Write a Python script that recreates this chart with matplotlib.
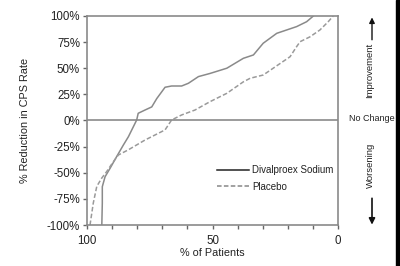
import matplotlib.pyplot as plt
from matplotlib.patches import Rectangle

# % of patients (x) vs % reduction in CPS rate (y)
div_pct = [94.1, 93.9, 93.9, 92.8, 90.8, 88.2, 85.5, 83.5, 80.2, 79.6, 76.9, 74.2, 72.2,
           68.9, 66.3, 62.3, 59.6, 55.6, 51.0, 44.3, 37.7, 33.7, 29.8, 24.4, 16.5, 12.5, 9.8]
div_val = [-100, -79, -63.3, -53.8, -45.7, -34.6, -23.4, -15.5, 0.5, 6.9, 10, 13, 21,
           31.8, 33, 33, 35.6, 42, 45, 50, 59.5, 62.7, 73.9, 83.4, 89.8, 94.5, 100]

pla_pct = [98.8, 97.5, 96.1, 94.1, 92.2, 89.5, 87.5, 83.5, 76.9, 68.9, 66.3, 62.3, 57.0,
           51.0, 44.3, 37.7, 35.0, 29.8, 19.1, 16.5, 15.1, 11.2, 7.2, 3.9, 1.9]
pla_val = [-100, -79, -63, -55, -49, -39.4, -33, -28, -18.7, -9, 0.5, 5.3, 10,
           18, 26, 37, 40.4, 43.5, 61, 70.6, 75.4, 80, 86.6, 94.5, 100]

yticks = [-100, -75, -50, -25, 0, 25, 50, 75, 100]
ytick_labels = ['-100%', '-75%', '-50%', '-25%', '0%', '25%', '50%', '75%', '100%']

plt.rcParams['font.family'] = ['Liberation Sans', 'DejaVu Sans']
plt.rcParams['font.size'] = 8.3

fig = plt.figure(figsize=(4, 2.66), dpi=100)
ax = fig.add_axes([0.2175, 0.154, 0.6275, 0.786])

ax.plot(div_pct, div_val, color='#8a8a8a', lw=1.1, label='Divalproex Sodium')
ax.plot(pla_pct, pla_val, color='#9a9a9a', lw=1.1, ls=(0, (3, 1.5)), label='Placebo')
ax.axhline(0, color='#8a8a8a', lw=1.2)

ax.set_xlim(100, 0)
ax.set_ylim(-100, 100)
ax.set_xticks(range(0, 101, 10))
ax.set_xticklabels(['0', '', '', '', '', '50', '', '', '', '', '100'])
ax.set_yticks(yticks)
ax.set_yticklabels(ytick_labels)
ax.tick_params(color='#666666', length=3, width=1, labelcolor='#222222', pad=2)
ax.tick_params(axis='x', pad=4)
for s in ax.spines.values():
    s.set_color('#8a8a8a')
    s.set_linewidth(1.2)

ax.set_ylabel('% Reduction in CPS Rate', color='#222222', fontsize=7.8, labelpad=12)
ax.set_xlabel('% of Patients', color='#222222', fontsize=7.8, labelpad=1)

leg = ax.legend(loc='center right', bbox_to_anchor=(1.0, 0.222), frameon=False, fontsize=7,
                handlelength=3.3, handletextpad=0.3, labelspacing=0.65, borderpad=0)
leg.get_lines()[0].set_color('#222222')
leg.get_lines()[1].set_color('#888888')
for t in leg.get_texts():
    t.set_color('#222222')

# right-side annotations
fig.text(0.925, 0.735, 'Improvement', rotation=90, ha='center', va='center',
         color='#222222', fontsize=6.8)
fig.text(0.93, 0.556, 'No Change', ha='center', va='center', color='#222222', fontsize=6.5)
fig.text(0.925, 0.38, 'Worsening', rotation=90, ha='center', va='center',
         color='#222222', fontsize=6.8)
ax.annotate('', xy=(0.93, 0.945), xytext=(0.93, 0.84), xycoords='figure fraction',
            arrowprops=dict(arrowstyle='-|>', color='#111111', lw=1, mutation_scale=8))
ax.annotate('', xy=(0.93, 0.145), xytext=(0.93, 0.265), xycoords='figure fraction',
            arrowprops=dict(arrowstyle='-|>', color='#111111', lw=1.2, mutation_scale=9))

fig.patches.append(Rectangle((0.99, 0), 0.01, 1, transform=fig.transFigure,
                             color='black', zorder=10))

fig.savefig('out.png', dpi=100)
